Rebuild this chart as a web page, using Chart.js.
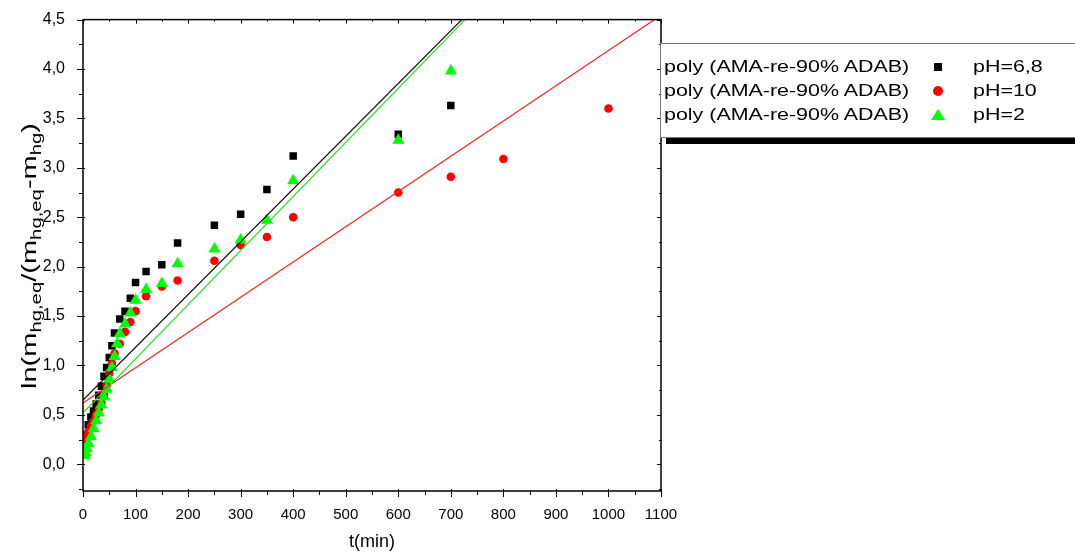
<!DOCTYPE html>
<html lang="en">
<head>
<title>ln plot vs t(min)</title>
<script src="https://cdn.jsdelivr.net/npm/chart.js"></script>
<style>
    body { margin: 0; background: #fff; font-family: "Liberation Sans", Arial, sans-serif; }
    #wrap { position: relative; width: 1075px; height: 558px; overflow: hidden; }
    #yTitle {
        position: absolute; left: 31px; top: 256px;
        transform: translate(-50%, -50%) rotate(-90deg) scaleX(1.45);
        white-space: nowrap; font-size: 20px; color: #000;
    }
    #yTitle sub { font-size: 14px; vertical-align: -5px; }
    #legend {
        position: absolute; left: 660px; top: 43px; width: 430px; height: 93px;
        border: 1px solid #777; background: #fff; box-shadow: 6px 6px 0 #000;
    }
    .row { position: absolute; left: 3px; height: 24px; line-height: 24px; font-size: 17px; white-space: nowrap; }
    .row .txt { display: inline-block; transform: scaleX(1.26); transform-origin: left center; }
    .row .ph { position: absolute; left: 309px; top: 0; transform: scaleX(1.26); transform-origin: left center; }
    .mk { position: absolute; }
    .sq { width: 8px; height: 8px; background: #000; }
    .ci { width: 10px; height: 10px; border-radius: 50%; background: #ff0000; }
    .tr { width: 0; height: 0; border-left: 7px solid transparent; border-right: 7px solid transparent; border-bottom: 11px solid #00ff00; }
</style>
</head>
<body>
<div id="wrap">
    <canvas id="lnChart" width="1075" height="558"></canvas>
    <div id="yTitle">ln(m<sub>hg,eq</sub>/(m<sub>hg,eq</sub>-m<sub>hg</sub>)</div>
    <div id="legend"></div>
</div>

<script>
// series
const seriesNames = ['pH=6,8', 'pH=10', 'pH=2'];
const legendText = 'poly (AMA-re-90% ADAB)';

const tBlack = [2, 5, 10, 15, 20, 25, 30, 35, 40, 45, 50, 55, 60, 70, 80, 90, 100, 120, 150, 180, 250, 300, 350, 400, 600, 700];
const yBlack = [0.22, 0.30, 0.40, 0.48, 0.54, 0.61, 0.70, 0.79, 0.89, 0.98, 1.08, 1.20, 1.33, 1.47, 1.55, 1.68, 1.84, 1.95, 2.02, 2.24, 2.42, 2.53, 2.78, 3.12, 3.34, 3.63];

const tRed = [2, 5, 10, 15, 20, 25, 30, 35, 40, 45, 50, 55, 60, 70, 80, 90, 100, 120, 150, 180, 250, 300, 350, 400, 600, 700, 800, 1000];
const yRed = [0.20, 0.27, 0.33, 0.39, 0.44, 0.50, 0.56, 0.62, 0.70, 0.80, 0.92, 1.02, 1.12, 1.22, 1.34, 1.44, 1.55, 1.70, 1.80, 1.86, 2.06, 2.22, 2.30, 2.50, 2.75, 2.91, 3.09, 3.60];

const tGreen = [3, 5, 7, 10, 15, 20, 25, 30, 35, 40, 45, 50, 55, 60, 65, 70, 80, 90, 100, 120, 150, 180, 250, 300, 350, 400, 600, 700];
const yGreen = [0.09, 0.12, 0.16, 0.21, 0.28, 0.36, 0.44, 0.52, 0.60, 0.68, 0.76, 0.86, 0.98, 1.09, 1.22, 1.32, 1.42, 1.53, 1.66, 1.77, 1.83, 2.03, 2.18, 2.27, 2.47, 2.87, 3.28, 3.98];

// fitted lines: start and end points
const fitBlackT = [0, 721];
const fitBlackY = [0.65, 4.5];
const fitRedT = [0, 1088];
const fitRedY = [0.62, 4.5];
const fitGreenT = [0, 727];
const fitGreenY = [0.52, 4.5];

// axis ticks
const xTickLabels = [0, 100, 200, 300, 400, 500, 600, 700, 800, 900, 1000, 1100];
const yTickLabels = [0, 0.5, 1.0, 1.5, 2.0, 2.5, 3.0, 3.5, 4.0, 4.5];

const toPoints = (xs, ys) => xs.map((x, i) => ({ x: x, y: ys[i] }));

// legend (html so it can sit off the plot like the original)
const legendEl = document.getElementById('legend');
const markerClass = ['sq', 'ci', 'tr'];
const markerOffset = [[273, 8], [272, 7], [270, 6]];
seriesNames.forEach((name, i) => {
    const row = document.createElement('div');
    row.className = 'row';
    row.style.top = (11 + i * 24) + 'px';
    row.innerHTML = '<span class="txt">' + legendText + '</span><span class="ph">' + name + '</span>';
    legendEl.appendChild(row);
    const mk = document.createElement('div');
    mk.className = 'mk ' + markerClass[i];
    mk.style.left = markerOffset[i][0] + 'px';
    mk.style.top = (11 + i * 24 + markerOffset[i][1]) + 'px';
    legendEl.appendChild(mk);
});

// frame + minor ticks like the Origin plot
const framePlugin = {
    id: 'frame',
    afterDraw(chart) {
        const ctx = chart.ctx;
        const a = chart.chartArea;
        const xs = chart.scales.x, ys = chart.scales.y;
        ctx.save();
        ctx.strokeStyle = '#000';
        ctx.lineWidth = 1.5;
        ctx.strokeRect(a.left, a.top, a.right - a.left, a.bottom - a.top);
        ctx.lineWidth = 1;
        ctx.beginPath();
        for (let v = 0; v <= 1100; v += 50) {
            const px = Math.round(xs.getPixelForValue(v)) + 0.5;
            const major = v % 100 === 0;
            ctx.moveTo(px, a.bottom - (major ? 2 : 0));
            ctx.lineTo(px, a.bottom + (major ? 6 : 4));
            ctx.moveTo(px, a.top);
            ctx.lineTo(px, a.top + (major ? 4 : 2));
        }
        for (let v = -0.25; v <= 4.5001; v += 0.25) {
            const py = Math.round(ys.getPixelForValue(v)) + 0.5;
            const major = Math.abs(v * 2 - Math.round(v * 2)) < 1e-6;
            ctx.moveTo(a.left + (major ? 2 : 0), py);
            ctx.lineTo(a.left - (major ? 6 : 4), py);
            ctx.moveTo(a.right, py);
            ctx.lineTo(a.right - (major ? 4 : 2), py);
        }
        ctx.stroke();
        ctx.restore();
    }
};

const fmtComma = v => v.toFixed(1).replace('.', ',');

new Chart(document.getElementById('lnChart'), {
    type: 'scatter',
    data: {
        datasets: [
            { label: 'fit 6,8', data: toPoints(fitBlackT, fitBlackY), showLine: true, borderColor: '#000', borderWidth: 1.2, pointRadius: 0 },
            { label: 'fit 2', data: toPoints(fitGreenT, fitGreenY), showLine: true, borderColor: '#22dd22', borderWidth: 1.2, pointRadius: 0 },
            { label: 'fit 10', data: toPoints(fitRedT, fitRedY), showLine: true, borderColor: '#ff2020', borderWidth: 1.2, pointRadius: 0 },
            { label: seriesNames[2], data: toPoints(tGreen, yGreen), pointStyle: 'triangle', pointRadius: 7, backgroundColor: '#00ff00', borderColor: '#00ff00', borderWidth: 0 },
            { label: seriesNames[1], data: toPoints(tRed, yRed), pointStyle: 'circle', pointRadius: 4.3, backgroundColor: '#ff0000', borderColor: '#ff0000', borderWidth: 0 },
            { label: seriesNames[0], data: toPoints(tBlack, yBlack), pointStyle: 'rect', pointRadius: 5.3, backgroundColor: '#000', borderColor: '#000', borderWidth: 0 }
        ]
    },
    options: {
        responsive: false,
        animation: false,
        events: [],
        layout: { padding: { left: 0, top: 17, right: 414, bottom: 0 } },
        plugins: { legend: { display: false }, tooltip: { enabled: false } },
        scales: {
            x: {
                type: 'linear', min: 0, max: 1100,
                afterBuildTicks: s => { s.ticks = xTickLabels.map(v => ({ value: v })); },
                afterFit: s => { s.height = 67; },
                grid: { display: false },
                border: { display: false },
                ticks: { color: '#000', font: { family: 'Liberation Sans', size: 15 }, padding: 7, maxRotation: 0, autoSkip: false, callback: v => String(v) },
                title: { display: true, text: 't(min)', color: '#000', font: { family: 'Liberation Sans', size: 18 }, padding: { top: 0, bottom: 5 } }
            },
            y: {
                type: 'linear', min: -0.27, max: 4.5,
                afterBuildTicks: s => { s.ticks = yTickLabels.map(v => ({ value: v })); },
                afterFit: s => { s.width = 83; },
                grid: { display: false },
                border: { display: false },
                ticks: { color: '#000', font: { family: 'Liberation Sans', size: 16 }, padding: 10, callback: v => fmtComma(v), autoSkip: false }
            }
        }
    },
    plugins: [framePlugin]
});
</script>
</body>
</html>
